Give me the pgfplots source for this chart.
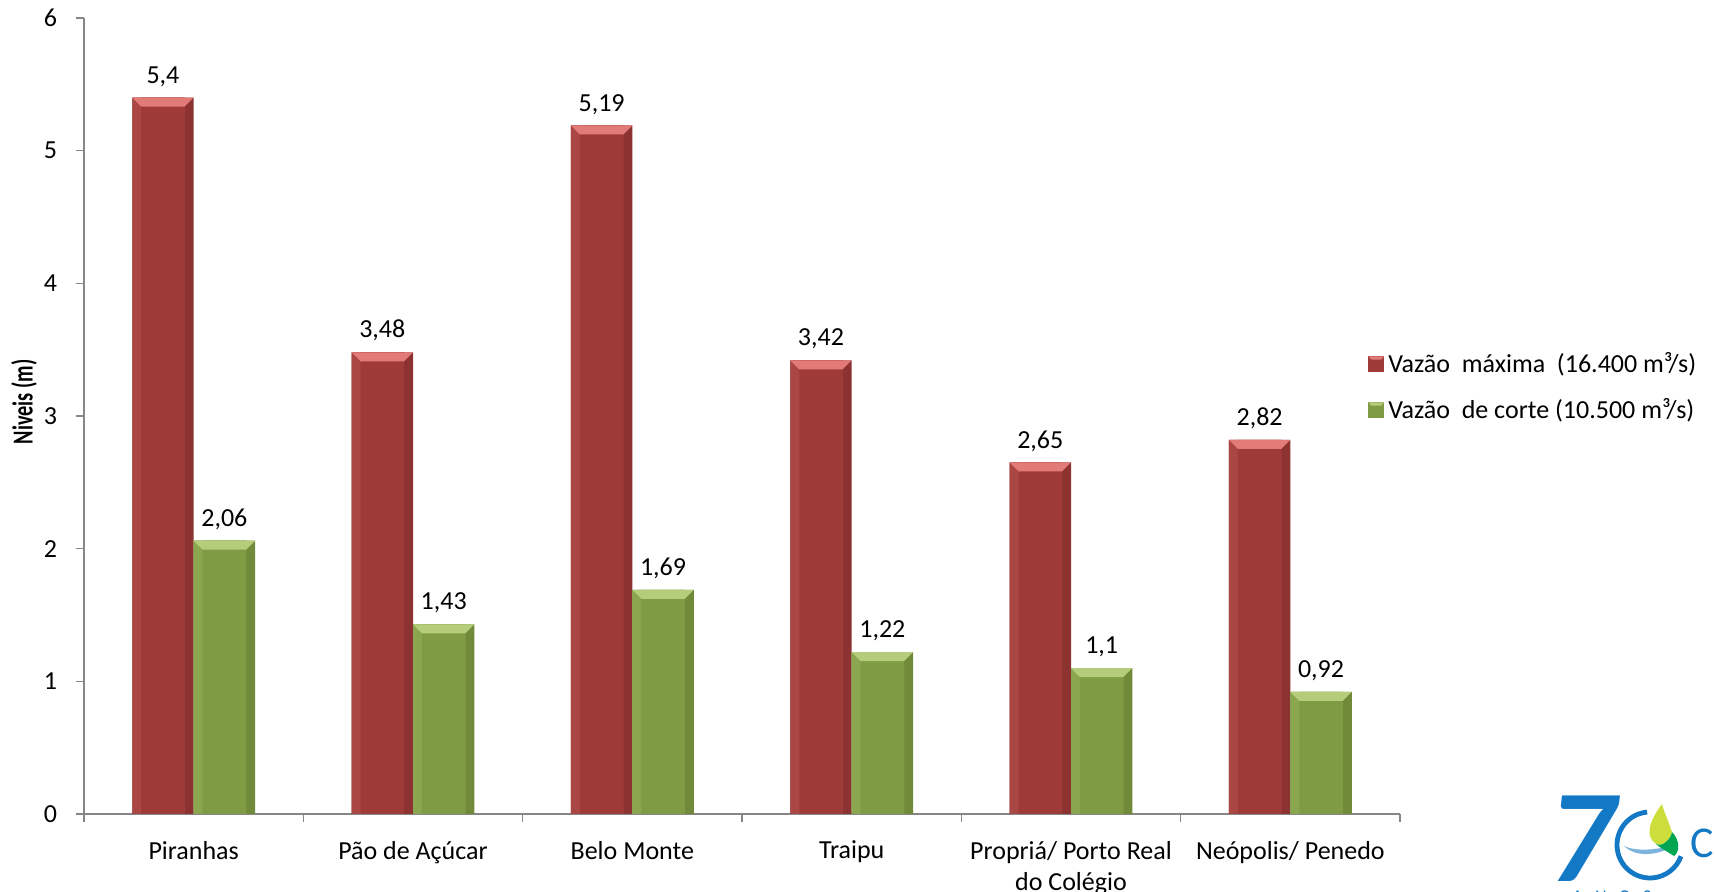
\documentclass[border=0pt]{standalone}
\usepackage{pgfplots}
\pgfplotsset{compat=1.18}
\usepackage{fontspec}
\setmainfont{Carlito}

\definecolor{redbar}{RGB}{158,59,57}
\definecolor{redlight}{RGB}{170,70,68}
\definecolor{reddark}{RGB}{140,50,49}
\definecolor{redtop}{RGB}{226,122,120}
\definecolor{greenbar}{RGB}{127,155,67}
\definecolor{greenlight}{RGB}{138,166,78}
\definecolor{greendark}{RGB}{112,138,58}
\definecolor{greentop}{RGB}{181,205,122}
\definecolor{axisgray}{RGB}{134,134,134}
\definecolor{logoblue}{RGB}{20,121,196}
\definecolor{logogreen}{RGB}{0,166,81}
\definecolor{logoyellow}{RGB}{205,222,60}

% half bar width (0.28 axis units) and bevel depth, in pt
\def\bwh{15.35pt}
\def\bv{4.5pt}
\pgfdeclareplotmark{bevel}{%
  \pgfpathmoveto{\pgfpoint{-\bwh}{0pt}}%
  \pgfpathlineto{\pgfpoint{\bwh}{0pt}}%
  \pgfpathlineto{\pgfpoint{\bwh-\bv}{-\bv}}%
  \pgfpathlineto{\pgfpoint{-\bwh+\bv}{-\bv}}%
  \pgfpathclose
  \pgfusepathqfill
}
\pgfplotsset{
  edge/.style={ybar, draw=none, bar width=0.28, forget plot},
  lightedge/.style={ybar, draw=none, bar width=0.239, forget plot},
  face/.style={ybar, draw=none, bar width=0.198},
  topbevel/.style={only marks, mark=bevel, forget plot, mark options={draw=none, fill=#1},
    nodes near coords, every node near coord/.append style={black, yshift=2pt, font=\fontsize{13}{15}\selectfont}},
  barkey/.style 2 args={legend image code/.code={%
    \fill[#1] (0pt,-4pt) rectangle (8pt,4pt);
    \fill[#2] (0pt,4pt) -- (8pt,4pt) -- (6.4pt,2.4pt) -- (1.6pt,2.4pt) -- cycle;}},
}

\begin{document}
\begin{tikzpicture}
\useasboundingbox (0,0) rectangle (857.5pt,446pt);
\begin{axis}[
  at={(42pt,39pt)}, anchor=south west,
  scale only axis, width=658pt, height=398pt,
  font=\fontsize{13}{15.9}\selectfont,
  /pgf/number format/assume math mode=true,
  /pgf/number format/use comma,
  xmin=-0.5, xmax=5.5, ymin=0, ymax=6,
  axis lines*=left,
  axis line style={axisgray, line width=0.8pt},
  every tick/.style={axisgray, line width=0.8pt},
  tick align=outside, major tick length=4pt,
  xtick={-0.5,0.5,1.5,2.5,3.5,4.5,5.5}, xticklabels={},
  extra x ticks={0,1,2,3,4,5},
  extra x tick labels={Piranhas, P\~ao de A\c{c}\'ucar, Belo Monte, Traipu, {Propri\'a/ Porto Real\\do Col\'egio}, Ne\'opolis/ Penedo},
  extra x tick style={major tick length=0pt},
  xticklabel style={align=center, yshift=-10pt, font=\fontsize{13}{15.9}\selectfont},
  ytick={0,1,2,3,4,5,6},
  yticklabel style={xshift=-6pt},
  ylabel={\scalebox{0.7}[1]{\fontsize{14.5}{16}\bfseries Niveis (m)}},
  ylabel style={at={(axis description cs:-0.0456,0.518)}, anchor=center, rotate=0},
  legend style={draw=none, fill=none, at={(axis description cs:0.9756,0.536)}, anchor=west,
    row sep=7.5pt, font=\fontsize{13}{15}\selectfont, inner sep=0pt},
  legend cell align=left,
  clip=false,
]
% Vazão máxima
\addplot[edge, fill=reddark, bar shift=-0.14]
  coordinates {(0,5.4) (1,3.48) (2,5.19) (3,3.42) (4,2.65) (5,2.82)};
\addplot[lightedge, fill=redlight, bar shift=-0.1605]
  coordinates {(0,5.4) (1,3.48) (2,5.19) (3,3.42) (4,2.65) (5,2.82)};
\addplot[face, fill=redbar, bar shift=-0.14, barkey={redbar}{redtop}]
  coordinates {(0,5.4) (1,3.48) (2,5.19) (3,3.42) (4,2.65) (5,2.82)};
\addplot[topbevel=redtop]
  coordinates {(-0.14,5.4) (0.86,3.48) (1.86,5.19) (2.86,3.42) (3.86,2.65) (4.86,2.82)};
% Vazão de corte
\addplot[edge, fill=greendark, bar shift=0.14]
  coordinates {(0,2.06) (1,1.43) (2,1.69) (3,1.22) (4,1.1) (5,0.92)};
\addplot[lightedge, fill=greenlight, bar shift=0.1195]
  coordinates {(0,2.06) (1,1.43) (2,1.69) (3,1.22) (4,1.1) (5,0.92)};
\addplot[face, fill=greenbar, bar shift=0.14, barkey={greenbar}{greentop}]
  coordinates {(0,2.06) (1,1.43) (2,1.69) (3,1.22) (4,1.1) (5,0.92)};
\addplot[topbevel=greentop]
  coordinates {(0.14,2.06) (1.14,1.43) (2.14,1.69) (3.14,1.22) (4.14,1.1) (5.14,0.92)};
\legend{Vaz\~ao\ \ m\'axima\ \ (16.400 m³/s), Vaz\~ao\ \ de corte (10.500 m³/s)}
\end{axis}

% anniversary logo in the corner
\begin{scope}
  \clip (0,0) rectangle (857.5pt,446pt);
  \node[logoblue, font=\fontsize{66}{66}\bfseries\itshape, inner sep=0pt, anchor=base west] at (774pt,5pt) {7};
  \draw[logoblue, line width=2.4pt] (825pt,23.5pt) ++(95:16.5pt) arc (95:340:16.5pt);
  \fill[logoblue!70, opacity=0.8] (812pt,23pt) .. controls (818pt,20pt) and (830pt,21pt) .. (838pt,24pt)
     .. controls (830pt,18pt) and (818pt,17pt) .. (812pt,23pt) -- cycle;
  \fill[logoyellow] (831pt,44pt) .. controls (825pt,36pt) and (822pt,28pt) .. (828pt,24pt)
     .. controls (832pt,22pt) and (836pt,28pt) .. (836pt,30pt) .. controls (834pt,36pt) and (832pt,40pt) .. (831pt,44pt) -- cycle;
  \fill[logogreen] (836pt,30pt) .. controls (840pt,26pt) and (840pt,20pt) .. (837pt,18pt)
     .. controls (834pt,20pt) and (830pt,22pt) .. (828pt,24pt) .. controls (832pt,22pt) and (836pt,28pt) .. (836pt,30pt) -- cycle;
  \node[logoblue, font=\fontsize{22}{22}\selectfont, inner sep=0pt, anchor=base west] at (845pt,17pt) {C};
  \node[logoblue, font=\fontsize{9}{9}\selectfont, inner sep=0pt, anchor=base west] at (786pt,-5.5pt) {A\ \ \ N\ \ \ O\ \ \ S};
\end{scope}
\end{tikzpicture}
\end{document}
